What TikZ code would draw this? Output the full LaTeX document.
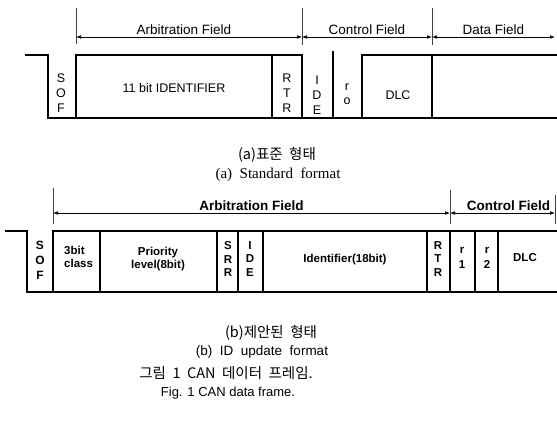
\documentclass[tikz,border=0pt]{standalone}
\usepackage{fontspec}
\setmainfont{Liberation Sans}
\newfontfamily\krfont{Noto Sans CJK KR}
\newfontfamily\seriffont{Liberation Serif}
\usetikzlibrary{arrows.meta, positioning, calc}

\begin{document}
\begin{tikzpicture}[
    x=1pt, y=-1pt,
    >=Latex,
    signal/.style={line width=1.8pt},
    divider/.style={line width=1.2pt},
    fieldtick/.style={line width=0.5pt, black!75},
    field/.style={
        line width=0.6pt,
        {Latex[length=5pt,width=3.6pt]}-{Latex[length=5pt,width=3.6pt]}
    },
    fieldlabel/.style={font=\fontsize{13.5}{14}\selectfont, above, inner sep=2.5pt},
    bitlabel/.style={font=\fontsize{12.5}{15}\selectfont, align=center, inner sep=0pt},
    boldfield/.style={font=\fontsize{13.5}{14}\selectfont\bfseries, above, inner sep=2.5pt},
    boldbit/.style={font=\fontsize{11.5}{13.5}\selectfont\bfseries, align=center, inner sep=0pt},
    caption/.style={font=\fontsize{13.5}{15}\selectfont, inner sep=0pt}
]
\useasboundingbox (0,0) rectangle (557,422);

% (a) standard format: signal outline
\draw[signal] (25,55) -- (48,55) -- (48,118) -- (557,118);
\draw[signal] (76,118) -- (76,55) -- (302,55) -- (302,118);
\draw[signal] (362,118) -- (362,55) -- (557,55);
\draw[divider] (272,55) -- (272,118);
\draw[line width=2.4pt] (333,51) -- (333,118);
\draw[divider] (432,55) -- (432,118);

% (a) field boundaries
\coordinate (arbA) at (76,37);
\coordinate (ctlA) at (302,37);
\coordinate (datA) at (432,37);
\coordinate (endA) at (555,37);
\draw[fieldtick] (76,8) -- (76,44);
\draw[fieldtick] (302,8) -- (302,45);
\draw[fieldtick] (432,8) -- (432,45);

\draw[field] (arbA) -- node[fieldlabel, xshift=-5pt] {Arbitration Field} (ctlA);
\draw[field] (ctlA) -- node[fieldlabel] {Control Field} (datA);
\draw[field] (datA) -- node[fieldlabel] {Data Field} (endA);

% (a) bits
\node[bitlabel] (sofA) at (61,93) {S\\O\\F};
\node[bitlabel] (idA) at (174,88) {11 bit IDENTIFIER};
\node[bitlabel] (rtrA) at (287,93) {R\\T\\R};
\node[bitlabel] (ideA) at (317,95) {I\\D\\E};
\node[bitlabel, font=\fontsize{12.5}{14}\selectfont] (rzeroA) at (347,94) {r\\o};
\node[bitlabel] (dlcA) at (398,95) {DLC};

% (a) caption
\node[caption, font=\fontsize{14.5}{15}\selectfont] (capAkr) at (277,155) {\krfont (a)표준 \ 형태};
\node[caption, font=\fontsize{15}{16}\selectfont] (capAen) at (278,175) {\seriffont (a) \ Standard \ format};

% (b) ID update format: signal outline
\draw[signal] (5,231) -- (27,231) -- (27,292) -- (557,292);
\draw[signal] (53,292) -- (53,231) -- (557,231);
\draw[divider] (100,231) -- (100,292);
\draw[divider] (217,231) -- (217,292);
\draw[divider] (238,231) -- (238,292);
\draw[divider] (263,231) -- (263,292);
\draw[divider] (427,231) -- (427,292);
\draw[divider] (450,231) -- (450,292);
\draw[divider] (475,231) -- (475,292);
\draw[divider] (498,231) -- (498,292);

% (b) field boundaries
\coordinate (arbB) at (53,213);
\coordinate (ctlB) at (450,213);
\coordinate (endB) at (555,213);
\draw[fieldtick] (53,188) -- (53,224);
\draw[fieldtick] (450,190) -- (450,224);
\draw[fieldtick] (555,195) -- (555,224);

\draw[field] (arbB) -- node[boldfield] {Arbitration Field} (ctlB);
\draw[field] (ctlB) -- node[boldfield, xshift=6pt] {Control Field} (endB);

% (b) bits
\node[boldbit, font=\fontsize{12}{15}\selectfont\bfseries] (sofB) at (40,260) {S\\O\\F};
\node[boldbit, align=left, anchor=west] (clsB) at (64,257) {3bit\\class};
\node[boldbit] (prioB) at (158,259) {Priority\\level(8bit)};
\node[boldbit] (srrB) at (228,259) {S\\R\\R};
\node[boldbit] (ideB) at (250,259) {I\\D\\E};
\node[boldbit] (idB) at (345,260) {Identifier(18bit)};
\node[boldbit] (rtrB) at (438,259) {R\\T\\R};
\node[boldbit, font=\fontsize{11.5}{15}\selectfont\bfseries] (roneB) at (462,258) {r\\1};
\node[boldbit, font=\fontsize{11.5}{15}\selectfont\bfseries] (rtwoB) at (487,258) {r\\2};
\node[boldbit] (dlcB) at (525,258) {DLC};

% (b) caption and figure title
\node[caption, font=\fontsize{14.5}{15}\selectfont] (capBkr) at (271,333) {\krfont (b)제안된 \ 형태};
\node[caption] (capBen) at (262,352) {(b) \ ID \ update \ format};
\node[caption, font=\fontsize{14.5}{15}\selectfont] (figKr) at (226,373) {\krfont 그림 \ 1 \ CAN \ 데이터 \ 프레임.};
\node[caption, font=\fontsize{13}{15}\selectfont] (figEn) at (228,393) {Fig. 1 CAN data frame.};

\end{tikzpicture}
\end{document}
